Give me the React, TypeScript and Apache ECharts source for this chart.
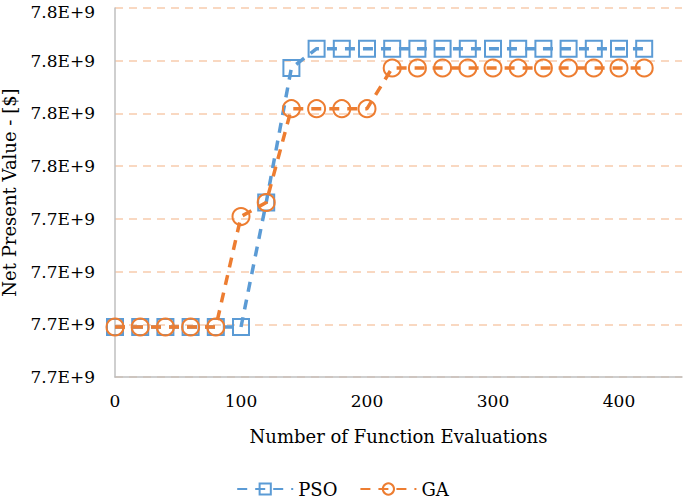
import React, { useEffect, useRef } from "react";
import * as echarts from "echarts";

const evaluations = [0, 20, 40, 60, 80, 100, 120, 140, 160, 180, 200, 220, 240, 260, 280, 300, 320, 340, 360, 380, 400, 420];
const psoValues = [
  7.73474e9, 7.73474e9, 7.73474e9, 7.73474e9, 7.73474e9, 7.73474e9,
  7.74655e9, 7.75931e9, 7.76114e9, 7.76114e9, 7.76114e9, 7.76114e9,
  7.76114e9, 7.76114e9, 7.76114e9, 7.76114e9, 7.76114e9, 7.76114e9,
  7.76114e9, 7.76114e9, 7.76114e9, 7.76114e9,
];
const gaValues = [
  7.73474e9, 7.73474e9, 7.73474e9, 7.73474e9, 7.73474e9, 7.74522e9,
  7.74655e9, 7.75545e9, 7.75545e9, 7.75545e9, 7.75545e9, 7.75931e9,
  7.75931e9, 7.75931e9, 7.75931e9, 7.75931e9, 7.75931e9, 7.75931e9,
  7.75931e9, 7.75931e9, 7.75931e9, 7.75931e9,
];
const seriesNames = ["PSO", "GA"];
const xTitle = "Number of Function Evaluations";
const yTitle = "Net Present Value - [$]";
const yMin = 7.73e9;
const yMax = 7.765e9;
const yStep = 5e6;

const FONT = "DejaVu Serif";

export default function App() {
  const ref = useRef<HTMLDivElement>(null);
  useEffect(() => {
    const chart = echarts.init(ref.current!, undefined, { renderer: "svg" });
    const fmtY = (v: number) => {
      const m = Math.round(v / 1e6);
      const s = (Math.round(m / 100) / 10).toFixed(1) + "E+9";
      return Math.abs(v - yMax) < 1 ? `{top|${s}}` : s;
    };
    const tick = { fontFamily: FONT, fontSize: 17, color: "#000" };
    const title = { fontFamily: FONT, fontSize: 18, color: "#000" };
    chart.setOption({
      animation: false,
      backgroundColor: "#ffffff",
      textStyle: { fontFamily: FONT },
      grid: {
        left: 115,
        right: 3,
        top: 8,
        bottom: 126,
        containLabel: false,
        outerBoundsMode: "none",
      },
      legend: {
        bottom: 0,
        left: "center",
        itemWidth: 56,
        itemHeight: 14,
        itemGap: 22,
        textStyle: title,
        data: seriesNames,
      },
      xAxis: {
        type: "value",
        min: 0,
        max: 450,
        interval: 100,
        name: xTitle,
        nameLocation: "middle",
        nameGap: 50,
        nameTextStyle: title,
        axisLine: { show: true, lineStyle: { color: "#BFBFBF", width: 1.5 } },
        axisTick: { show: false },
        splitLine: { show: false },
        axisLabel: { ...tick, margin: 15, showMaxLabel: false },
      },
      yAxis: {
        type: "value",
        min: yMin,
        max: yMax,
        interval: yStep,
        name: yTitle,
        nameLocation: "middle",
        nameGap: 97,
        nameTextStyle: title,
        axisLine: { show: true, lineStyle: { color: "#BFBFBF", width: 1.5 } },
        axisTick: { show: false },
        splitLine: {
          show: true,
          lineStyle: { color: "#F8CBAD", type: [8, 6], width: 1.5 },
        },
        axisLabel: {
          ...tick,
          margin: 20,
          formatter: fmtY,
          rich: {
            top: { ...tick, padding: [7, 0, 0, 0] },
          },
        },
      },
      series: [
        {
          name: seriesNames[0],
          type: "line",
          data: evaluations.map((x, i) => [x, psoValues[i]]),
          symbol: "rect",
          symbolSize: 16,
          showAllSymbol: true,
          color: "#5B9BD5",
          itemStyle: { color: "rgba(255,255,255,0)", borderColor: "#5B9BD5", borderWidth: 2 },
          lineStyle: { color: "#5B9BD5", width: 3.5, type: [10, 8] },
          z: 2,
        },
        {
          name: seriesNames[1],
          type: "line",
          data: evaluations.map((x, i) => [x, gaValues[i]]),
          symbol: "circle",
          symbolSize: 17,
          showAllSymbol: true,
          color: "#ED7D31",
          itemStyle: { color: "rgba(255,255,255,0)", borderColor: "#ED7D31", borderWidth: 2 },
          lineStyle: { color: "#ED7D31", width: 3.5, type: [10, 8] },
          z: 3,
        },
      ],
    });
    return () => chart.dispose();
  }, []);
  return (
    <div
      ref={ref}
      style={{ position: "absolute", left: 0, top: 0, width: 685, height: 503 }}
    />
  );
}
